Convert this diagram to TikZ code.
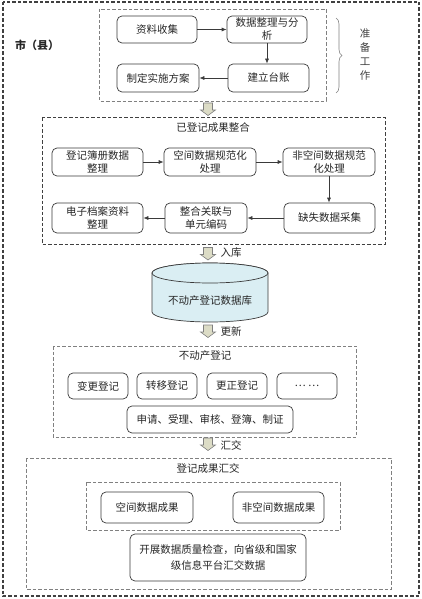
\documentclass[tikz,border=0pt]{standalone}
\usepackage{fontspec}
\newfontfamily\cjk{Noto Sans CJK SC}
\usetikzlibrary{arrows.meta,decorations.pathreplacing}
\definecolor{txt}{HTML}{262626}
\definecolor{boxc}{HTML}{3A3A3A}
\definecolor{dashdark}{HTML}{404040}
\definecolor{dashgray}{HTML}{808080}
\definecolor{dbfill}{HTML}{DAEEF3}
\definecolor{bafill}{HTML}{DCDCC6}
\tikzset{
  box/.style={draw=boxc, rounded corners=5pt, line width=0.7pt, align=center, inner sep=1pt,
    font=\cjk\fontsize{10.5}{13}\selectfont, text=txt},
  lbl/.style={font=\cjk\fontsize{10.5}{13}\selectfont, text=txt, inner sep=1pt},
  darkframe/.style={draw=dashdark, line width=1pt, dash pattern=on 3.5pt off 2pt},
  grayframe/.style={draw=dashgray, line width=0.8pt, dash pattern=on 3.5pt off 2pt},
  conn/.style={draw=boxc, line width=0.7pt, -{Latex[length=5pt,width=4pt]}},
  barrow/.pic={\draw[draw=gray, fill=bafill, line width=0.6pt] (-4.5,0) -- (4.5,0) -- (4.5,-7) -- (7.5,-7) -- (0,-12.5) -- (-7.5,-7) -- (-4.5,-7) -- cycle;}
}
\begin{document}
\begin{tikzpicture}[x=1pt,y=1pt]
\useasboundingbox (0,0) rectangle (421,-599);
% outer frame
\draw[darkframe, line width=1.2pt] (3,-2) rectangle (419,-596);
\node[lbl, font=\cjk\bfseries\fontsize{11}{13}\selectfont] (city) at (37,-45) {市（县）};

% preparation
\draw[grayframe] (99,-9) rectangle (326,-101);
\node[box, minimum width=80pt, minimum height=27pt] (zl) at (157,-29.5) {资料收集};
\node[box, minimum width=80pt, minimum height=27pt] (zz) at (267,-29.5) {数据整理与分\\析};
\node[box, minimum width=81pt, minimum height=28pt] (jl) at (268.5,-78) {建立台账};
\node[box, minimum width=82pt, minimum height=28pt] (zd) at (158,-78) {制定实施方案};
\draw[conn] (zl) -- (zz);
\draw[conn] (zz.south) -- (zz.south|-jl.north);
\draw[conn] (jl) -- (zd);
\draw[draw=gray, line width=0.6pt, decorate, decoration={brace, amplitude=6pt}] (336,-18) -- (336,-93);
\node[lbl, align=center, font=\cjk\fontsize{10.5}{14}\selectfont, text=dashdark] (zbgz) at (365,-55) {准\\备\\工\\作};

\pic at (208,-103) {barrow};

% section 2
\draw[darkframe] (42,-118) rectangle (385,-244);
\node[lbl] (t2) at (213,-128) {已登记成果整合};
\node[box, minimum width=91pt, minimum height=28pt] (r1) at (97.5,-162) {登记簿册数据\\整理};
\node[box, minimum width=92pt, minimum height=28pt] (r2) at (210,-162) {空间数据规范化\\处理};
\node[box, minimum width=92pt, minimum height=28pt] (r3) at (329,-162) {非空间数据规范\\化处理};
\node[box, minimum width=91pt, minimum height=30pt] (s1) at (97.5,-218) {电子档案资料\\整理};
\node[box, minimum width=82pt, minimum height=30pt] (s2) at (206,-218) {整合关联与\\单元编码};
\node[box, minimum width=91pt, minimum height=30pt] (s3) at (329.5,-218) {缺失数据采集};
\draw[conn] (r1) -- (r2);
\draw[conn] (r2) -- (r3);
\draw[conn] (r3.south) -- (r3.south|-s3.north);
\draw[conn] (s3) -- (s2);
\draw[conn] (s2) -- (s1);

\pic at (208,-247.5) {barrow};
\node[lbl] (rk) at (231,-253) {入库};

% database
\draw[draw=boxc, line width=0.7pt, fill=dbfill] (152,-273) -- (152,-312)
  arc[start angle=180, end angle=360, x radius=58, y radius=10] -- (268,-273)
  arc[start angle=0, end angle=180, x radius=58, y radius=10] -- cycle;
\draw[draw=boxc, line width=0.7pt, fill=dbfill] (210,-273) ellipse[x radius=58, y radius=10];
\node[lbl] (db) at (210,-301) {不动产登记数据库};

\pic at (208,-325) {barrow};
\node[lbl] (gx) at (231,-331) {更新};

% section 3
\draw[grayframe] (53,-346) rectangle (356,-437);
\node[lbl] (t3) at (205,-356) {不动产登记};
\node[box, minimum width=60pt, minimum height=26pt] (bg) at (98,-386) {变更登记};
\node[box, minimum width=60pt, minimum height=26pt] (zy) at (167,-386) {转移登记};
\node[box, minimum width=60pt, minimum height=26pt] (gz) at (237,-386) {更正登记};
\node[box, minimum width=60pt, minimum height=26pt] (dots) at (307,-386) {…\ …};
\node[box, minimum width=166pt, minimum height=27pt] (sq) at (210,-419.5) {申请、受理、审核、登簿、制证};

\pic at (208,-438) {barrow};
\node[lbl] (hj) at (231,-445) {汇交};

% section 4
\draw[grayframe] (26,-458) rectangle (391,-589);
\node[lbl] (t4) at (208,-468) {登记成果汇交};
\draw[grayframe] (86,-482) rectangle (340,-530);
\node[box, minimum width=92pt, minimum height=31pt] (kj) at (147,-507.5) {空间数据成果};
\node[box, minimum width=91pt, minimum height=31pt] (fkj) at (278.5,-507.5) {非空间数据成果};
\node[box, minimum width=176pt, minimum height=47pt, font=\cjk\fontsize{10.5}{16}\selectfont] (kz) at (218,-557.5) {开展数据质量检查，向省级和国家\\级信息平台汇交数据};
\end{tikzpicture}
\end{document}
